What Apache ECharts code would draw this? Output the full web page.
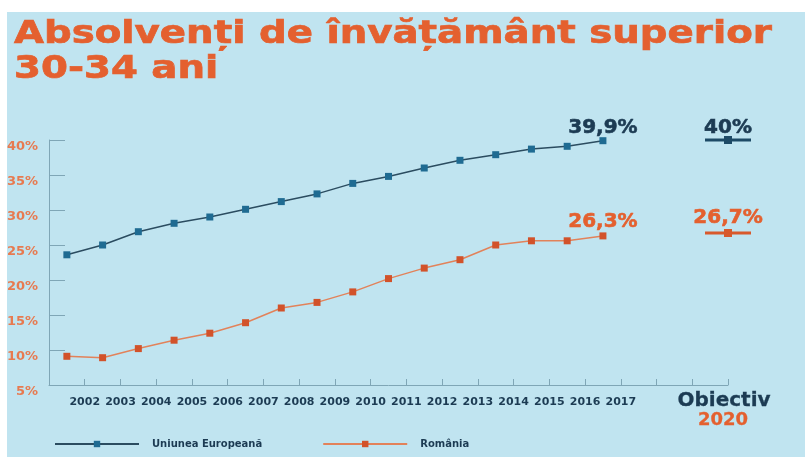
<!DOCTYPE html>
<html>
<head>
<meta charset="utf-8">
<script src="https://cdn.jsdelivr.net/npm/echarts@6/dist/echarts.min.js"></script>
<style>
  html, body { margin: 0; padding: 0; background: #fff; }
  #chart { width: 805px; height: 459px; }
</style>
</head>
<body>
<div id="chart"></div>
<script>
// data
const years = [2002, 2003, 2004, 2005, 2006, 2007, 2008, 2009, 2010, 2011, 2012, 2013, 2014, 2015, 2016, 2017];
const ueValues = [23.6, 25.0, 26.9, 28.1, 29.0, 30.1, 31.2, 32.3, 33.8, 34.8, 36.0, 37.1, 37.9, 38.7, 39.1, 39.9];
const roValues = [9.1, 8.9, 10.2, 11.4, 12.4, 13.9, 16.0, 16.8, 18.3, 20.2, 21.7, 22.9, 25.0, 25.6, 25.6, 26.3];
const seriesNames = ['Uniunea Europeană', 'România'];
const targetYear = 2020;
const ueTarget = 40;
const roTarget = 26.7;

const BG = '#c0e4f0';
const NAVY = '#1c3b53';
const ORANGE = '#e4602f';
const AXIS = '#7fa6b6';
const FONT = 'DejaVu Sans';

const pct = v => (Number.isInteger(v) ? String(v) : v.toFixed(1).replace('.', ',')) + '%';
const lastLabel = p => p.dataIndex === years.length - 1 ? pct(p.value[1]) : '';

// points sit in the middle of each year, the year label marks its end
const toPoints = vals => years.map((y, i) => [y - 0.5, vals[i]]);

const bigLabel = (color, dist) => ({
  show: true, position: 'top', distance: dist,
  color: color, fontFamily: FONT, fontWeight: 'bold', fontSize: 20,
  textBorderColor: color, textBorderWidth: 0.6
});

// heavy text: bold plus a thin outline in the same colour
const textStyle = (text, color, size, weight) => ({
  text: text, fill: color, fontFamily: FONT, fontWeight: 'bold', fontSize: size,
  stroke: color, lineWidth: weight
});

const chart = echarts.init(document.getElementById('chart'));

chart.setOption({
  animation: false,
  backgroundColor: BG,
  grid: { left: 49, right: 77, top: 140, bottom: 74 },
  xAxis: {
    type: 'value', min: 2001, max: targetYear, interval: 1,
    axisLine: { lineStyle: { color: AXIS, width: 1 } },
    axisTick: { inside: true, length: 6, lineStyle: { color: AXIS } },
    splitLine: { show: false },
    axisLabel: {
      margin: 12, color: NAVY, fontFamily: FONT, fontWeight: 'bold', fontSize: 11,
      showMinLabel: true, showMaxLabel: true,
      formatter: v => (v >= years[0] && v <= years[years.length - 1]) ? String(v) : ''
    }
  },
  yAxis: {
    type: 'value', min: 5, max: 40, interval: 5,
    axisLine: { show: true, lineStyle: { color: AXIS, width: 1 } },
    axisTick: { show: true, inside: true, length: 16, lineStyle: { color: AXIS } },
    splitLine: { show: false },
    axisLabel: {
      margin: 11, color: '#e77a50', fontFamily: FONT, fontWeight: 'bold', fontSize: 13,
      verticalAlign: 'top',
      formatter: '{value}%'
    }
  },
  legend: {
    data: seriesNames,
    left: 49, top: 434,
    itemWidth: 84, itemHeight: 8, itemGap: 60,
    textStyle: { color: NAVY, fontFamily: FONT, fontWeight: 'bold', fontSize: 10, padding: [0, 0, 0, 8] }
  },
  series: [
    {
      name: seriesNames[0], type: 'line',
      data: toPoints(ueValues),
      symbol: 'rect', symbolSize: 7,
      itemStyle: { color: '#1f6b92' },
      lineStyle: { color: '#2b4c60', width: 1.5 },
      label: Object.assign(bigLabel(NAVY, -1), { formatter: lastLabel }),
      emphasis: { disabled: true }
    },
    {
      name: seriesNames[1], type: 'line',
      data: toPoints(roValues),
      symbol: 'rect', symbolSize: 7,
      itemStyle: { color: '#d2522a' },
      lineStyle: { color: '#e2825a', width: 1.5 },
      label: Object.assign(bigLabel(ORANGE, 1), { formatter: lastLabel }),
      emphasis: { disabled: true }
    },
    {
      name: 'obiectiv', type: 'scatter',
      data: [[targetYear, ueTarget]],
      symbol: 'path://M0,3.5h46v3h-46z M19,1h8v8h-8z',
      symbolSize: [46, 8],
      itemStyle: { color: '#1d4a66', opacity: 1 },
      label: Object.assign(bigLabel(NAVY, -2), { formatter: p => pct(p.value[1]) }),
      emphasis: { disabled: true }
    },
    {
      name: 'obiectiv', type: 'scatter',
      data: [[targetYear, roTarget]],
      symbol: 'path://M0,3.5h46v3h-46z M19,1h8v8h-8z',
      symbolSize: [46, 8],
      itemStyle: { color: '#d8592c', opacity: 1 },
      label: Object.assign(bigLabel(ORANGE, 1), { formatter: p => pct(p.value[1]) }),
      emphasis: { disabled: true }
    }
  ],
  graphic: [
    // white margins around the blue panel
    { type: 'rect', shape: { x: 0, y: 0, width: 805, height: 12 }, style: { fill: '#fff' }, silent: true },
    { type: 'rect', shape: { x: 0, y: 0, width: 7, height: 459 }, style: { fill: '#fff' }, silent: true },
    { type: 'rect', shape: { x: 0, y: 457, width: 805, height: 2 }, style: { fill: '#fff' }, silent: true },
    {
      type: 'text', x: 14, y: 35, scaleX: 1.21,
      style: Object.assign(textStyle('Absolvenți de învățământ superior', ORANGE, 32, 0.7), { verticalAlign: 'middle' })
    },
    {
      type: 'text', x: 14, y: 70, scaleX: 1.21,
      style: Object.assign(textStyle('30-34 ani', ORANGE, 32, 0.7), { verticalAlign: 'middle' })
    },
    {
      type: 'text', x: 724, y: 401,
      style: Object.assign(textStyle('Obiectiv', NAVY, 20, 0.3), { align: 'center', verticalAlign: 'middle' })
    },
    {
      type: 'text', x: 723, y: 420,
      style: Object.assign(textStyle('2020', ORANGE, 18, 0.3), { align: 'center', verticalAlign: 'middle' })
    }
  ]
});
</script>
</body>
</html>
